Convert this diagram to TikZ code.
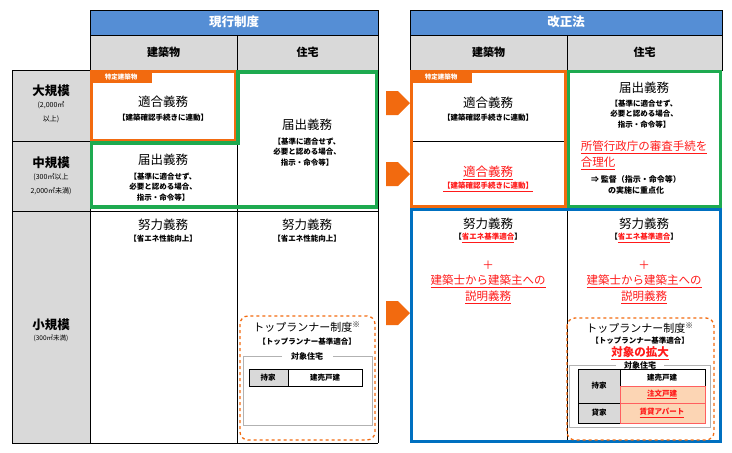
\documentclass[tikz,border=0pt]{standalone}
\usepackage{fontspec}
\setmainfont{Noto Sans CJK JP}
\usetikzlibrary{shapes.arrows}
\definecolor{hblue}{HTML}{558ED5}
\definecolor{hgray}{HTML}{D9D9D9}
\definecolor{org}{HTML}{F26A0F}
\definecolor{grn}{HTML}{1EAA50}
\definecolor{blu}{HTML}{0070C0}
\definecolor{rd}{HTML}{FF1A1A}
\definecolor{pch}{HTML}{FCD5B4}
\begin{document}
\begin{tikzpicture}[x=1pt,y=-1pt,
 cell/.style={draw=black,line width=0.6pt},
 ttl/.style={font=\fontsize{12.5}{14}\selectfont},
 sub/.style={font=\fontsize{7.5}{10.5}\selectfont\bfseries,align=center},
 rtx/.style={text=rd,font=\fontsize{11.5}{16}\selectfont,align=center},
 arr/.style={single arrow,fill=org,draw=none,minimum height=24pt,minimum width=24pt,single arrow head extend=0pt,inner sep=0pt},
 tab/.style={fill=org,text=white,font=\fontsize{6.5}{7}\selectfont\bfseries,inner sep=1.5pt,anchor=north west,minimum width=62pt,minimum height=13pt,align=left}]
\useasboundingbox (0,0) rectangle (732,453);
% headers
\fill[hblue] (90,10) rectangle (378,35);
\draw[cell] (90,10) rectangle (378,35);
\node[text=white,font=\fontsize{12.5}{14}\selectfont\bfseries] (h1) at (234,22) {現行制度};
\fill[hblue] (410,10) rectangle (722,35);
\draw[cell] (410,10) rectangle (722,35);
\node[text=white,font=\fontsize{12.5}{14}\selectfont\bfseries] (h2) at (566,22) {改正法};
\foreach \a/\b/\t/\n in {90/237/建築物/s1,237/378/住宅/s2,410/567/建築物/s3,567/722/住宅/s4}{
 \fill[hgray] (\a,35) rectangle (\b,70);
 \draw[cell] (\a,35) rectangle (\b,70);
 \node[font=\fontsize{11}{12}\selectfont\bfseries] (\n) at ({(\a+\b)/2},52) {\t};}
% row labels
\fill[hgray] (12,70) rectangle (90,443);
\draw[cell] (12,70) rectangle (90,443);
\draw[cell] (12,141) -- (90,141) (12,211) -- (90,211);
\draw[line width=1pt] (90,70) -- (90,443) (12,443) -- (378,443);
\draw[line width=1pt] (237,70) -- (237,443);
\draw[cell] (378,70) -- (378,443);
\draw[cell] (90,141) -- (237,141) (90,211) -- (378,211);
\node[align=center,font=\fontsize{12.5}{14}\selectfont\bfseries] (r1) at (51,104) {大規模\\[-2pt]\fontsize{7}{9}\selectfont\mdseries (2,000㎡\\\fontsize{7}{9}\selectfont\mdseries 以上)};
\node[align=center,font=\fontsize{12.5}{14}\selectfont\bfseries] (r2) at (51,176) {中規模\\[-2pt]\fontsize{7}{9}\selectfont\mdseries (300㎡以上\\\fontsize{7}{9}\selectfont\mdseries 2,000㎡未満)};
\node[align=center,font=\fontsize{12.5}{14}\selectfont\bfseries] (r3) at (51,330) {小規模\\[-3pt]\fontsize{6.5}{8}\selectfont\mdseries (300㎡未満)};
% left boxes
\draw[org,line width=3.5pt] (91.5,71.5) rectangle (236,141);
\node[tab] (t1) at (90,70) {特定建築物};
\node[ttl] (a1) at (163,102) {適合義務};
\node[sub] (a1s) at (163,118) {【建築確認手続きに連動】};
\draw[grn,line width=3.5pt] (238,72) -- (376.5,72) -- (376.5,207) -- (91.5,207) -- (91.5,143) -- (238,143) -- cycle;
\node[ttl] (b1) at (163,160) {届出義務};
\node[sub] (b1s) at (163,187) {【基準に適合せず、\\必要と認める場合、\\指示・命令等】};
\node[ttl] (b2) at (307,125) {届出義務};
\node[sub] (b2s) at (307,152) {【基準に適合せず、\\必要と認める場合、\\指示・命令等】};
\node[ttl] (c1) at (163,225) {努力義務};
\node[sub] (c1s) at (163,239) {【省エネ性能向上】};
\node[ttl] (c2) at (307,225) {努力義務};
\node[sub] (c2s) at (307,239) {【省エネ性能向上】};
% left top runner
\draw[org,dashed,line width=1.3pt,rounded corners=8pt] (240,316) rectangle (375,440);
\node[font=\fontsize{11}{12}\selectfont] (tr1) at (307,327) {トップランナー制度\textsuperscript{※}};
\node[sub] (tr1s) at (307,342) {【トップランナー基準適合】};
\draw[gray!60,line width=0.6pt] (282,356) -- (243,356) -- (243,425) -- (372,425) -- (372,356) -- (333,356);
\node[font=\fontsize{8}{9}\selectfont\bfseries] (tj1) at (307,356) {対象住宅};
\fill[hgray] (249,369) rectangle (288,386);
\draw[cell] (249,369) rectangle (362,386) (288,369) -- (288,386);
\node[font=\fontsize{7.5}{8}\selectfont\bfseries] (m1) at (268,377.5) {持家};
\node[font=\fontsize{7.5}{8}\selectfont\bfseries] (k1) at (325,377.5) {建売戸建};
% arrows
\node[arr] (ar1) at (392,103) {};
\node[arr] (ar2) at (392,174) {};
\node[arr] (ar3) at (392,313) {};
% right table
\draw[cell] (410,70) -- (410,443);
\draw[org,line width=3.5pt] (411.5,71.5) rectangle (565.5,207);
\draw[cell] (413,141) -- (564,141);
\node[tab] (t2) at (410,70) {特定建築物};
\node[ttl] (a3) at (488,103) {適合義務};
\node[sub] (a3s) at (488,118) {【建築確認手続きに連動】};
\node[ttl,text=rd] (a4) at (488,173) {\underline{適合義務}};
\node[sub,text=rd] (a4s) at (488,187) {\underline{【建築確認手続きに連動】}};
\draw[grn,line width=3.5pt] (568.5,71.5) rectangle (720.5,207);
\node[ttl] (b3) at (644,88) {届出義務};
\node[sub] (b3s) at (644,114) {【基準に適合せず、\\必要と認める場合、\\指示・命令等】};
\node[rtx,align=left] (b4) at (644,155) {\underline{所管行政庁の審査手続を}\\\underline{合理化}};
\node[sub,font=\fontsize{8}{11}\selectfont\bfseries] (b4s) at (636,185) {⇒ 監督（指示・命令等）\\の実施に重点化};
\draw[blu,line width=3.5pt] (411.5,209.5) rectangle (720.5,441.5);
\draw[cell] (567,211) -- (567,440);
\foreach \x/\n in {488/l,644/r}{
 \node[ttl] (d\n) at (\x,224) {努力義務};
 \node[sub] (d\n s) at (\x,238) {【{\color{rd}\underline{省エネ基準適合}}】};
 \node[rtx] (d\n p) at (\x,265) {＋};
 \node[rtx] (d\n e) at (\x,289) {\underline{建築士から建築主への}\\\underline{説明義務}};}
% right top runner
\draw[org,dashed,line width=1.3pt,rounded corners=8pt] (567,318) rectangle (714,440);
\node[font=\fontsize{11}{12}\selectfont] (tr2) at (640,328) {トップランナー制度\textsuperscript{※}};
\node[sub] (tr2s) at (640,341) {【トップランナー基準適合】};
\node[rtx,font=\fontsize{11.5}{12}\selectfont\bfseries] (ex) at (640,353) {\underline{対象の拡大}};
\draw[gray!60,line width=0.6pt] (616,365) -- (569,365) -- (569,427) -- (710,427) -- (710,365) -- (664,365);
\node[font=\fontsize{8}{9}\selectfont\bfseries] (tj2) at (640,365) {対象住宅};
\fill[hgray] (578,369) rectangle (620,423);
\fill[pch] (620,386) rectangle (705,423);
\draw[cell] (578,369) rectangle (705,423) (620,369) -- (620,423) (578,403) -- (705,403) (620,386) -- (705,386);
\draw[rd!70,line width=0.6pt] (620,386) rectangle (705,423) (620,403) -- (705,403);
\node[font=\fontsize{7.5}{8}\selectfont\bfseries] (m2) at (599,386) {持家};
\node[font=\fontsize{7.5}{8}\selectfont\bfseries] (v2) at (599,413) {貸家};
\node[font=\fontsize{7.5}{8}\selectfont\bfseries] (k2) at (662,377.5) {建売戸建};
\node[font=\fontsize{7.5}{8}\selectfont\bfseries,text=rd] (k3) at (662,394.5) {\underline{注文戸建}};
\node[font=\fontsize{7.5}{8}\selectfont\bfseries,text=rd] (k4) at (662,413) {\underline{賃貸アパート}};
\end{tikzpicture}
\end{document}
